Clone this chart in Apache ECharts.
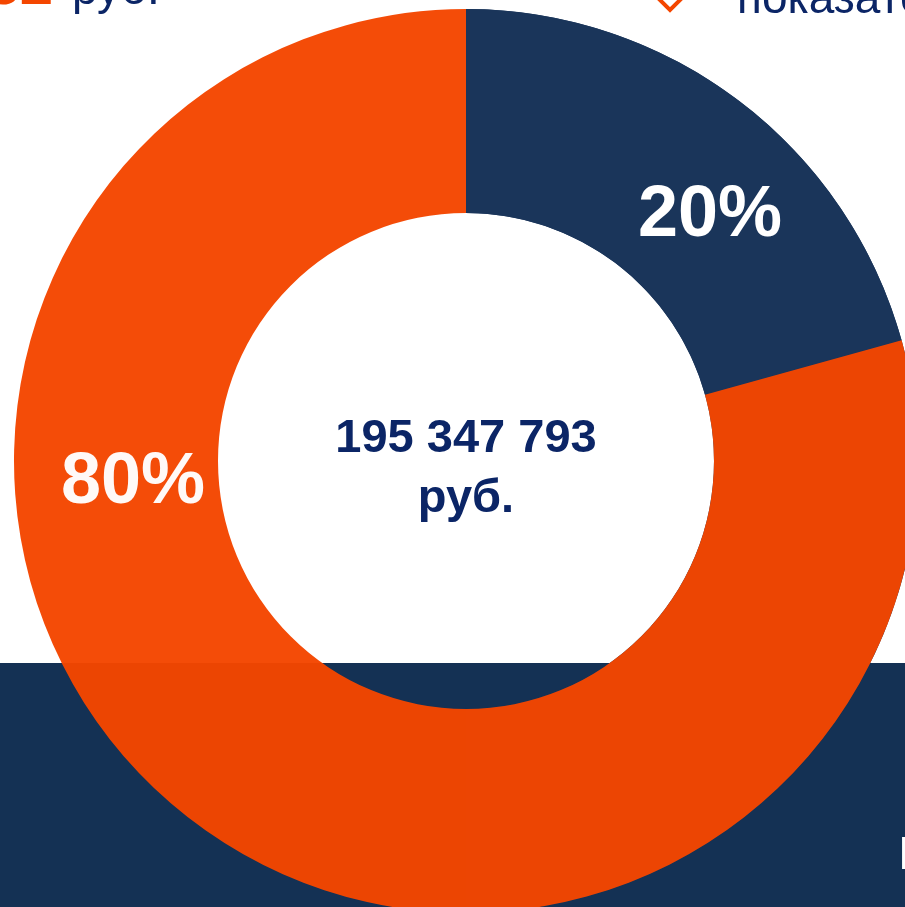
<!DOCTYPE html>
<html>
<head>
<meta charset="utf-8">
<script src="https://cdn.jsdelivr.net/npm/echarts@6/dist/echarts.min.js"></script>
<style>
  html, body { margin: 0; padding: 0; background: #fff; }
  #chart { width: 905px; height: 907px; }
</style>
</head>
<body>
<div id="chart"></div>
<script>
// shares of the total, clockwise from 12 o'clock
const sliceNames = ["Доля 1", "Доля 2"];
const sliceValues = [20.7, 79.3];
const sliceLabels = ["20%", "80%"];
const sliceColors = ["#1a355a", "#f44600"];
const totalLines = ["195 347 793", "руб."];

// underlay ring under the right half of the donut
const underlayValues = [50, 50];

const font = "'Liberation Sans', Arial, sans-serif";
const navy = "#143154";
const textNavy = "#0b2566";
const labelPos = [[710, 216], [133, 483]];

const chart = echarts.init(document.getElementById("chart"));

const option = {
  backgroundColor: "#ffffff",
  animation: false,
  graphic: [
    {
      type: "rect",
      z: -10,
      shape: { x: 0, y: 663, width: 905, height: 244 },
      style: { fill: navy }
    },
    {
      type: "text",
      z: 100,
      style: {
        x: 53, y: -13, text: "32", fill: "#f44600",
        font: "bold 60px " + font, textAlign: "right", textVerticalAlign: "middle"
      }
    },
    {
      type: "text",
      z: 100,
      style: {
        x: 72, y: -9, text: "руб.", fill: textNavy,
        font: "46px " + font, textAlign: "left", textVerticalAlign: "middle"
      }
    },
    {
      type: "polygon",
      z: 100,
      shape: { points: [[670, -40], [695, -15], [670, 10], [645, -15]] },
      style: { fill: "none", stroke: "#f44600", lineWidth: 4 }
    },
    {
      type: "text",
      z: 100,
      style: {
        x: 737, y: 0, text: "показатели", fill: textNavy,
        font: "46px " + font, textAlign: "left", textVerticalAlign: "middle"
      }
    },
    {
      type: "text",
      z: 100,
      style: {
        x: 899, y: 856, text: "Б", fill: "#ffffff",
        font: "bold 46px " + font, textAlign: "left", textVerticalAlign: "middle"
      }
    },
    {
      type: "text",
      z: 100,
      style: {
        x: 466, y: 469, text: totalLines.join("\n"), fill: textNavy,
        font: "bold 47px " + font, lineHeight: 60,
        textAlign: "center", textVerticalAlign: "middle"
      }
    }
  ],
  series: [
    {
      type: "pie",
      z: 1,
      silent: true,
      center: [466, 461],
      radius: [248, 452],
      startAngle: 90,
      clockwise: true,
      label: { show: false },
      labelLine: { show: false },
      emphasis: { disabled: true },
      data: underlayValues.map((v, i) => ({
        value: v,
        itemStyle: { color: i === 0 ? sliceColors[0] : "rgba(0,0,0,0)" }
      }))
    },
    {
      type: "pie",
      z: 2,
      silent: true,
      center: [466, 461],
      radius: [248, 452],
      startAngle: 90,
      clockwise: true,
      avoidLabelOverlap: false,
      emphasis: { disabled: true },
      label: {
        show: true,
        position: "inside",
        color: "#ffffff",
        fontFamily: font,
        fontWeight: "bold",
        fontSize: 72,
        align: "center",
        verticalAlign: "middle",
        formatter: p => sliceLabels[p.dataIndex]
      },
      labelLine: { show: false },
      labelLayout: p => ({ x: labelPos[p.dataIndex][0], y: labelPos[p.dataIndex][1] }),
      data: sliceValues.map((v, i) => ({
        name: sliceNames[i],
        value: v,
        itemStyle: { color: sliceColors[i], opacity: i === 0 ? 1 : 0.97 }
      }))
    }
  ]
};

chart.setOption(option);
</script>
</body>
</html>
